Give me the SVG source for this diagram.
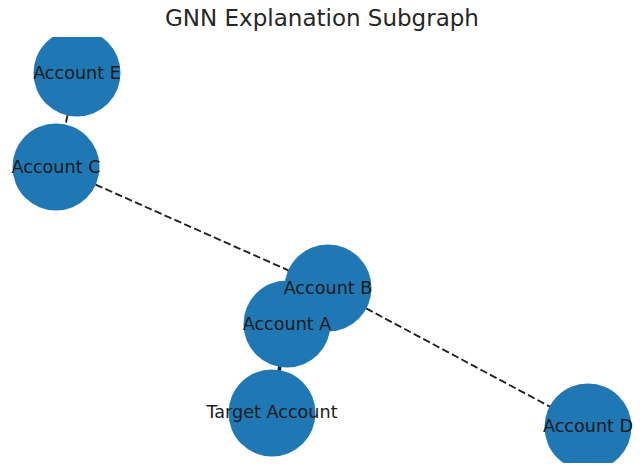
<svg xmlns="http://www.w3.org/2000/svg" width="644" height="466" viewBox="0 0 644 466">
<style>
.node{fill:#1f78b4}
.lbl{font-family:"DejaVu Sans",sans-serif;font-size:17.6px;fill:#1a1a1a;text-anchor:middle}
.title{font-family:"DejaVu Sans",sans-serif;font-size:23px;fill:#262626;text-anchor:middle}
.dash{stroke:#222;stroke-width:1.9;stroke-dasharray:7.5,3.3;fill:none}
.solid{stroke:#222;stroke-width:3.5;fill:none}
</style>
<defs><clipPath id="ax"><rect x="0" y="37" width="644" height="426"/></clipPath></defs>
<rect width="644" height="466" fill="#fff"/>
<text class="title" x="322" y="26">GNN Explanation Subgraph</text>
<g clip-path="url(#ax)">
<g id="edges">
<line class="dash" x1="77" y1="73" x2="56" y2="167"/>
<line class="dash" x1="56" y1="167" x2="328" y2="288"/>
<line class="dash" x1="328" y1="288" x2="588" y2="427"/>
<line class="solid" x1="287" y1="324" x2="272" y2="413"/>
</g>
<g id="nodeE"><circle class="node" cx="77" cy="73" r="43.5"/></g>
<g id="nodeC"><circle class="node" cx="56" cy="167" r="43.5"/></g>
<g id="nodeB"><circle class="node" cx="328" cy="288" r="43.5"/></g>
<g id="nodeA"><circle class="node" cx="287" cy="324" r="43.5"/></g>
<g id="nodeT"><circle class="node" cx="272" cy="413" r="43.5"/></g>
<g id="nodeD"><circle class="node" cx="588" cy="427" r="43.5"/></g>
<g id="labels">
<text class="lbl" x="77" y="79">Account E</text>
<text class="lbl" x="56" y="173">Account C</text>
<text class="lbl" x="328" y="294">Account B</text>
<text class="lbl" x="287" y="330">Account A</text>
<text class="lbl" x="272" y="418">Target Account</text>
<text class="lbl" x="588" y="432">Account D</text>
</g>
</g>
</svg>
